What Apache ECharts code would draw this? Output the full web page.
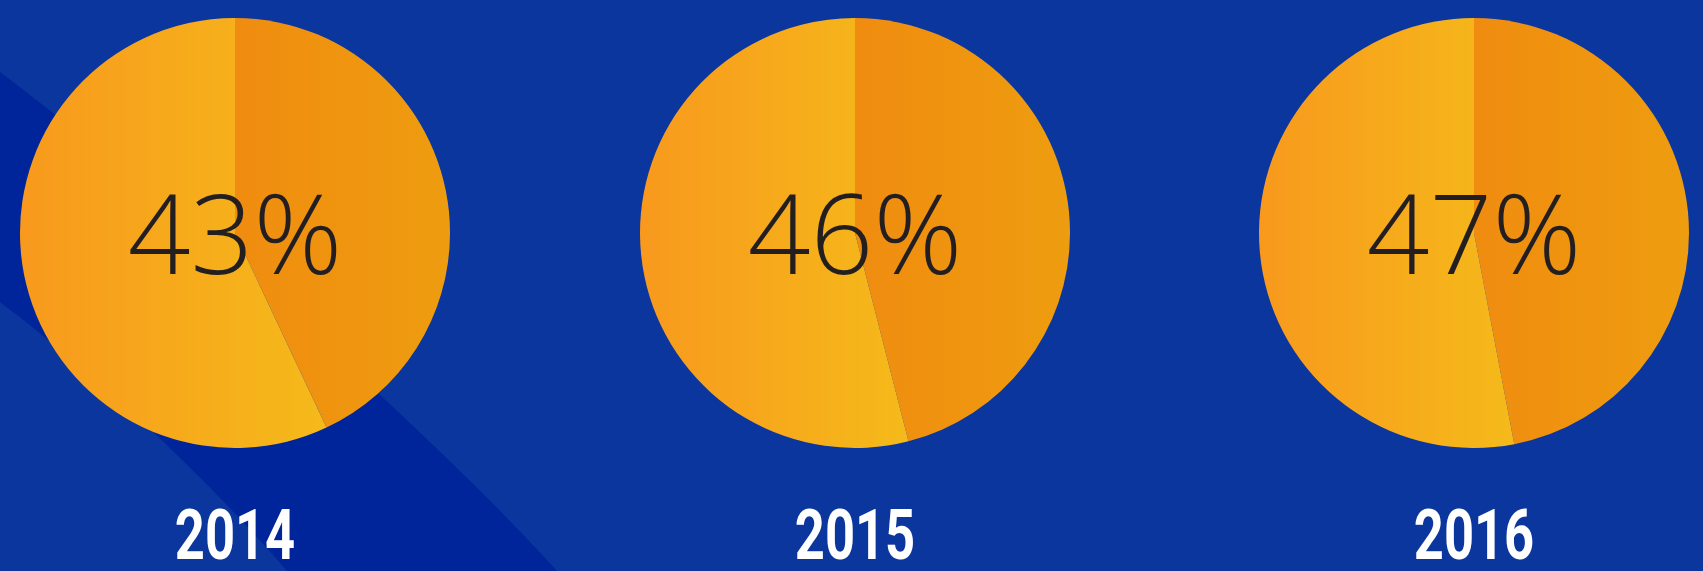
<!DOCTYPE html>
<html>
<head>
<meta charset="utf-8">
<script src="https://cdn.jsdelivr.net/npm/echarts@6/dist/echarts.min.js"></script>
<style>
  html, body { margin: 0; padding: 0; background: #0a369d; }
  #main { width: 1703px; height: 571px; }
</style>
</head>
<body>
<div id="main"></div>
<script>
const years = ['2014', '2015', '2016'];
const shares = [43, 46, 47];
const centersX = [235, 855, 1474];

const myChart = echarts.init(document.getElementById('main'));

// horizontal gradient, relative to each slice's box
function grad(from, to) {
  return {
    type: 'linear', x: 0, y: 0, x2: 1, y2: 0,
    colorStops: [
      { offset: 0, color: from },
      { offset: 1, color: to }
    ]
  };
}

// points along a cubic bezier, for the dark background band
function cubic(p0, p1, p2, p3, n) {
  const pts = [];
  for (let k = 0; k <= n; k++) {
    const t = k / n, u = 1 - t;
    pts.push([
      u * u * u * p0[0] + 3 * u * u * t * p1[0] + 3 * u * t * t * p2[0] + t * t * t * p3[0],
      u * u * u * p0[1] + 3 * u * u * t * p1[1] + 3 * u * t * t * p2[1] + t * t * t * p3[1]
    ]);
  }
  return pts;
}
const bandPts = cubic([0, 72], [150, 185], [420, 420], [557, 571], 40)
  .concat(cubic([287, 571], [200, 470], [90, 370], [0, 302], 40));

const series = years.map((y, i) => ({
  name: y,
  type: 'pie',
  center: [centersX[i], 233],
  radius: 215,
  startAngle: 90,
  clockwise: true,
  silent: true,
  labelLine: { show: false },
  itemStyle: { borderWidth: 0 },
  data: [
    {
      value: shares[i],
      name: y,
      itemStyle: { color: grad('#f08c10', '#ee9d0f') },
      label: {
        show: true,
        position: 'center',
        formatter: '{c}%',
        offset: [0, 10],
        color: '#231f20',
        fontSize: 110,
        fontWeight: 300,
        fontFamily: 'Open Sans'
      }
    },
    {
      value: 100 - shares[i],
      name: 'rest',
      itemStyle: { color: grad('#f8991d', '#f5ba1a') },
      label: { show: false }
    }
  ]
}));

const yearLabels = years.map((y, i) => ({
  type: 'text',
  x: centersX[i],
  y: 541,
  scaleX: 0.75,
  silent: true,
  style: {
    text: y,
    fill: '#ffffff',
    font: 'bold 70px Roboto',
    textAlign: 'center',
    textVerticalAlign: 'middle'
  }
}));

myChart.setOption({
  backgroundColor: '#0a369d',
  animation: false,
  graphic: [
    {
      type: 'polygon',
      z: -10,
      silent: true,
      shape: { points: bandPts },
      style: { fill: '#00249a' }
    }
  ].concat(yearLabels),
  series: series
});
</script>
</body>
</html>
